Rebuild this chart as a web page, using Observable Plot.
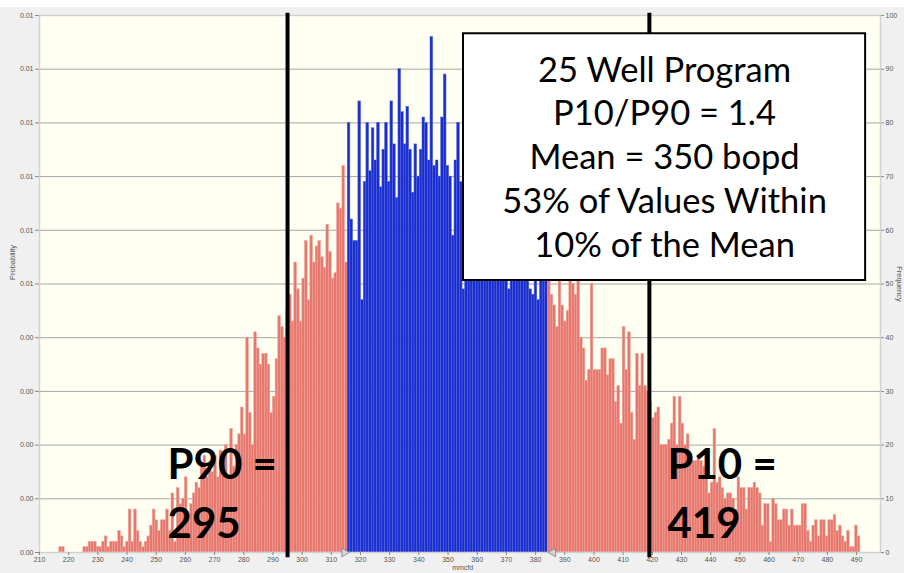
<!DOCTYPE html>
<html>
<head>
<meta charset="utf-8">
<script src="https://cdn.jsdelivr.net/npm/d3@7"></script>
<script src="https://cdn.jsdelivr.net/npm/@observablehq/plot@0.6"></script>
<style>
html, body { margin: 0; padding: 0; background: #fff; }
#chart svg { display: block; }
</style>
</head>
<body>
<div id="chart"></div>
<script>
// ---- data ----
const binStart = 216.8;
const binWidth = 0.915;
const counts = [
  1,1,0,0,0,0,0,0,0,1,1,2,2,2,1,1,2,3,1,2,
  2,2,4,3,1,2,8,2,8,4,2,1,2,3,5,8,6,4,6,6,
  8,4,11,2,12,9,10,14,7,9,11,13,12,16,18,14,16,15,18,14,
  19,17,20,14,23,16,20,22,27,22,40,26,20,41,38,35,37,37,35,26,
  29,36,44,42,40,45,48,43,54,49,43,51,58,47,59,54,57,58,55,53,
  61,56,51,52,65,64,72,54,
  80,62,58,58,84,47,69,80,71,79,73,80,68,75,80,69,84,76,66,90,
  82,76,83,75,67,76,70,75,81,80,73,96,72,73,70,81,89,72,70,59,
  73,80,69,
  49,72,66,75,63,70,58,68,74,61,66,71,57,64,69,55,62,49,66,60,
  58,67,53,61,56,49,48,59,47,54,52,57,
  55,48,46,42,52,46,43,45,52,50,48,51,40,38,32,34,50,34,34,34,
  38,38,33,36,36,28,31,24,42,34,41,26,21,37,31,37,31,30,
  28,25,26,27,20,20,20,21,24,29,20,29,24,20,22,18,17,17,18,17,
  16,14,11,13,23,13,14,12,10,11,11,10,8,14,12,12,8,12,12,13,
  12,11,5,9,9,2,10,9,6,6,8,8,5,8,5,5,5,9,9,4,
  2,5,6,3,6,6,3,6,6,7,4,5,3,2,4,1,1,5,3
];
const lowerDelimiter = 315.5;
const upperDelimiter = 384.3;
const p90Value = 295;
const p10Value = 419;
const xTicks = [210,220,230,240,250,260,270,280,290,300,310,320,330,340,350,360,370,380,390,400,410,420,430,440,450,460,470,480,490];
const yTicks = [0,10,20,30,40,50,60,70,80,90,100];
const leftTickLabels = ["0.00","0.00","0.00","0.00","0.00","0.01","0.01","0.01","0.01","0.01","0.01"];
const rightTickLabels = ["0","10","20","30","40","50","60","70","80","90","100"];
const boxLines = ["25 Well Program","P10/P90 = 1.4","Mean = 350 bopd","53% of Values Within","10% of the Mean"];
const p90Lines = ["P90 =","295"];
const p10Lines = ["P10 =","419"];
const xTitle = "mmcfd";
const yLeftTitle = "Probability";
const yRightTitle = "Frequency";

// ---- derived table ----
const bins = counts.map((c, i) => {
  const x1 = binStart + i * binWidth, x2 = x1 + binWidth, mid = (x1 + x2) / 2;
  return {x1, x2, count: c, inside: mid >= lowerDelimiter && mid <= upperDelimiter};
}).filter(d => d.count > 0);

const leftMap = new Map(yTicks.map((t, i) => [t, leftTickLabels[i]]));
const rightMap = new Map(yTicks.map((t, i) => [t, rightTickLabels[i]]));

const RED = "#e7776c", RED_EDGE = "#f0a69e";
const BLUE = "#1a2ecf", BLUE_EDGE = "#5464de";

const boxAnn = {x1: 355.3, x2: 493.1, y1: 50.65, y2: 96.6};

const chart = Plot.plot({
  width: 904,
  height: 573,
  marginLeft: 39,
  marginRight: 24,
  marginTop: 15,
  marginBottom: 21,
  x: {domain: [210, 498.2]},
  y: {domain: [0, 100]},
  style: {background: "#f0f0f0", color: "#555", fontFamily: "'Liberation Sans', Arial, sans-serif"},
  marks: [
    Plot.frame({fill: "#fffff2", stroke: null}),
    Plot.gridY(yTicks, {stroke: "#a6a6a6", strokeOpacity: 1, strokeWidth: 1}),
    Plot.rectY(bins, {
      x1: "x1", x2: "x2", y: "count",
      fill: d => d.inside ? BLUE : RED,
      stroke: d => d.inside ? BLUE_EDGE : RED_EDGE,
      strokeWidth: 0.5
    }),
    Plot.frame({stroke: "#d2d2d2", strokeWidth: 1.5}),
    Plot.axisX(xTicks, {tickSize: 3, tickPadding: 2, fontSize: 7, label: null, stroke: "#888", fill: "#555"}),
    Plot.axisY(yTicks, {anchor: "left", tickSize: 4, tickPadding: 2, fontSize: 7, label: null, tickFormat: d => leftMap.get(d), stroke: "#888", fill: "#555"}),
    Plot.axisY(yTicks, {anchor: "right", tickSize: 3, tickPadding: 2, fontSize: 7, label: null, tickFormat: d => rightMap.get(d), stroke: "#888", fill: "#555"}),
    Plot.dot([lowerDelimiter], {x: d => d, y: 0, symbol: "triangle", rotate: 90, r: 3.2, dx: -3, fill: "#d3d6de", stroke: "#808080", strokeWidth: 0.8}),
    Plot.dot([upperDelimiter], {x: d => d, y: 0, symbol: "triangle", rotate: -90, r: 3.2, dx: 5, fill: "#d3d6de", stroke: "#808080", strokeWidth: 0.8}),
    Plot.ruleX([p90Value, p10Value], {y1: -1, y2: 100.4, stroke: "black", strokeWidth: 4}),
    Plot.rect([boxAnn], {x1: "x1", x2: "x2", y1: "y1", y2: "y2", fill: "white", stroke: "black", strokeWidth: 2}),
    Plot.text([boxLines.join("\n")], {
      x: 424.2, y: 55.1, text: d => d, textAnchor: "middle", lineAnchor: "bottom",
      lineHeight: 1.267, fontSize: 34.5, fontFamily: "Lato, 'Open Sans', sans-serif", fill: "black"
    }),
    Plot.text([p90Lines.join("\n")], {
      x: 253.9, y: 2.79, text: d => d, textAnchor: "start", lineAnchor: "bottom",
      lineHeight: 1.405, fontSize: 42, fontWeight: "bold", fontFamily: "Lato, 'Open Sans', sans-serif", fill: "black"
    }),
    Plot.text([p10Lines.join("\n")], {
      x: 425.2, y: 2.79, text: d => d, textAnchor: "start", lineAnchor: "bottom",
      lineHeight: 1.405, fontSize: 42, fontWeight: "bold", fontFamily: "Lato, 'Open Sans', sans-serif", fill: "black"
    }),
    Plot.text([yLeftTitle], {x: 210, y: 54, dx: -27, text: d => d, rotate: -90, fontSize: 7.5, fill: "#555"}),
    Plot.text([yRightTitle], {x: 498.2, y: 50, dx: 19, text: d => d, rotate: 90, fontSize: 7.5, fill: "#555"}),
    Plot.text([xTitle], {x: 355, y: 0, dy: 13, text: d => d, lineAnchor: "top", fontSize: 7, fill: "#555"})
  ]
});
chart.style.boxShadow = "inset 0 7px 0 0 #fff";
document.getElementById("chart").appendChild(chart);
</script>
</body>
</html>
